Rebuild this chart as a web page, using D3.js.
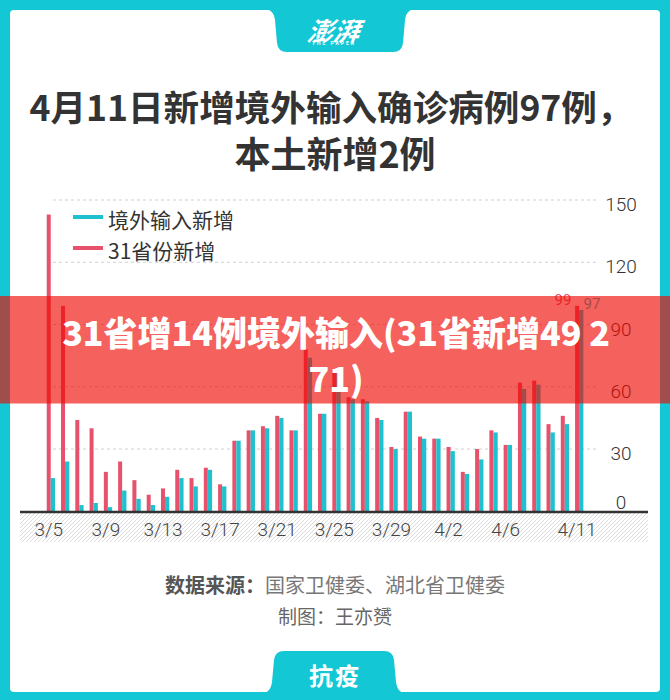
<!DOCTYPE html>
<html><head><meta charset="utf-8">
<script src="https://cdn.jsdelivr.net/npm/d3@7"></script>
<style>body{margin:0;background:#fff}svg{display:block}</style>
</head><body>
<svg id="c" width="670" height="700"></svg>
<script>
// ---- data ----
const dates = ['3/5','3/6','3/7','3/8','3/9','3/10','3/11','3/12','3/13','3/14','3/15','3/16','3/17','3/18','3/19','3/20','3/21','3/22','3/23','3/24','3/25','3/26','3/27','3/28','3/29','3/30','3/31','4/1','4/2','4/3','4/4','4/5','4/6','4/7','4/8','4/9','4/10','4/11'];
const provinceNew = [143,99,44,40,19,24,15,8,11,20,16,21,13,34,39,41,46,39,78,47,67,55,54,45,31,48,36,35,31,19,30,39,32,62,63,42,46,99];
const importedNew = [16,24,3,4,2,10,6,3,7,16,12,20,12,34,39,40,45,39,74,47,67,54,53,44,30,48,35,35,29,18,25,38,32,59,61,38,42,97];
const yTicks = [0,30,60,90,120,150];
const xTickLabels = ['3/5','3/9','3/13','3/17','3/21','3/25','3/29','4/2','4/6','4/11'];
const seriesNames = ['境外输入新增','31省份新增'];
const seriesColors = ['#1fc1cf','#e8516b'];
const titleLines = ['4月11日新增境外输入确诊病例97例，','本土新增2例'];
const bannerLines = ['31省增14例境外输入(31省新增49 2','71)'];
const sourceLabel = '数据来源：';
const sourceText = '国家卫健委、湖北省卫健委';
const creditText = '制图：王亦赟';
const logoText = '澎湃';
const logoSub = 'THE PAPER';
const footerText = '抗疫';

// ---- drawing ----
const svg = d3.select('#c');
const CJK = '"Noto Sans CJK SC","Noto Sans",sans-serif';
const NUM = 'Roboto,"Noto Sans CJK SC",sans-serif';
const frame = '#14c7d4';

svg.append('rect').attr('width',670).attr('height',700).attr('fill',frame);
svg.append('rect').attr('x',10).attr('y',10).attr('width',650).attr('height',682).attr('rx',4).attr('fill','#fff');

// top tab
svg.append('path').attr('fill',frame)
  .attr('d','M264 9 C271 9 274 13 275 20 L277 43 Q278 52 287 52 L393 52 Q402 52 403 43 L405 20 C406 13 409 9 416 9 Z');
svg.append('text').text(logoText).attr('x',334).attr('y',30)
  .attr('text-anchor','middle').attr('dominant-baseline','central')
  .attr('font-family',CJK).attr('font-weight',700).attr('font-style','italic')
  .attr('font-size',26).attr('fill','#fff').attr('transform','skewX(-8) translate(4,0)');
svg.append('text').text(logoSub).attr('x',334).attr('y',45)
  .attr('text-anchor','middle').attr('font-family',NUM).attr('font-weight',700)
  .attr('font-size',5).attr('letter-spacing',2).attr('fill','#fff');

// bottom tab
svg.append('path').attr('fill',frame)
  .attr('d','M262 693 C269 693 271 688 272 682 L274 660 Q275 651 284 651 L384 651 Q393 651 394 660 L396 682 C397 688 399 693 406 693 Z');
svg.append('text').text(footerText).attr('x',335).attr('y',674)
  .attr('text-anchor','middle').attr('dominant-baseline','central')
  .attr('font-family',CJK).attr('font-weight',700).attr('font-size',24)
  .attr('letter-spacing',2).attr('fill','#fff');

// title
svg.append('text').text(titleLines[0]).attr('x',331).attr('y',105)
  .attr('text-anchor','middle').attr('dominant-baseline','central')
  .attr('font-family',CJK).attr('font-weight',700).attr('font-size',35.6).attr('fill','#333');
svg.append('text').text(titleLines[1]).attr('x',335).attr('y',152)
  .attr('text-anchor','middle').attr('dominant-baseline','central')
  .attr('font-family',CJK).attr('font-weight',700).attr('font-size',36).attr('fill','#333');

// scales
const x = d3.scaleBand().domain(dates).range([43.6, 586.2]);
const xs = d3.scaleBand().domain(['p','i']).range([x.bandwidth()/2-4, x.bandwidth()/2+4]);
const y = d3.scaleLinear().domain([0,150]).range([511.3, 200]);

// hatch area under axis
const defs = svg.append('defs');
const pat = defs.append('pattern').attr('id','hatch').attr('width',4).attr('height',4)
  .attr('patternUnits','userSpaceOnUse');
pat.append('path').attr('d','M-1,1 l2,-2 M0,4 l4,-4 M3,5 l2,-2').attr('stroke','#d8d8d8').attr('stroke-width',0.9);
svg.append('rect').attr('x',20).attr('y',513).attr('width',628).attr('height',29).attr('fill','url(#hatch)');

// grid
svg.append('g').selectAll('line').data(yTicks.filter(d=>d>0)).join('line')
  .attr('x1',53).attr('x2',597).attr('y1',d=>y(d)).attr('y2',d=>y(d))
  .attr('stroke','#cfcfcf').attr('stroke-width',1).attr('stroke-dasharray','3,3');

// y labels
const yAxis = svg.append('g').attr('transform','translate(621,0)')
  .call(d3.axisRight(y).tickValues(yTicks).tickSize(0));
yAxis.select('.domain').remove();
yAxis.selectAll('text').attr('x',0).attr('dy',null)
  .attr('text-anchor','middle').attr('dominant-baseline','central')
  .attr('y',d=> d===0 ? -9 : 4)
  .attr('font-family',NUM).attr('font-weight',300).attr('font-size',19).attr('fill','#333');

// bars
const gb = svg.append('g');
gb.selectAll('rect.p').data(dates).join('rect').attr('class','p')
  .attr('x',d=>x(d)+xs('p')).attr('width',xs.bandwidth())
  .attr('y',(d,i)=>y(provinceNew[i])).attr('height',(d,i)=>y(0)-y(provinceNew[i]))
  .attr('fill',seriesColors[1]);
gb.selectAll('rect.i').data(dates).join('rect').attr('class','i')
  .attr('x',d=>x(d)+xs('i')).attr('width',xs.bandwidth()+0.3)
  .attr('y',(d,i)=>y(importedNew[i])).attr('height',(d,i)=>y(0)-y(importedNew[i]))
  .attr('fill',seriesColors[0]);

// value labels on last day
const li = dates.length-1, ld = dates[li];
svg.append('text').text(provinceNew[li])
  .attr('x',x(ld)+xs('p')+xs.bandwidth()/2-14).attr('y',y(provinceNew[li])-1)
  .attr('text-anchor','middle').attr('font-family',NUM).attr('font-size',15)
  .attr('fill',seriesColors[1]);
svg.append('text').text(importedNew[li])
  .attr('x',x(ld)+xs('i')+xs.bandwidth()/2+11).attr('y',y(importedNew[li])-1)
  .attr('text-anchor','middle').attr('font-family',NUM).attr('font-size',15)
  .attr('fill',seriesColors[0]);

// baseline
svg.append('line').attr('x1',20).attr('x2',648).attr('y1',y(0)+0.8).attr('y2',y(0)+0.8)
  .attr('stroke','#333').attr('stroke-width',2.5);

// x labels
const xAxis = svg.append('g').attr('transform','translate(0,529.5)')
  .call(d3.axisBottom(x).tickValues(xTickLabels).tickSize(0));
xAxis.select('.domain').remove();
xAxis.selectAll('text').attr('y',0).attr('dy',null).attr('x',-2)
  .attr('dominant-baseline','central')
  .attr('font-family',NUM).attr('font-weight',300).attr('font-size',19).attr('fill','#444');

// legend
const lg = svg.append('g');
seriesNames.forEach((n,k)=>{
  const yy = 217 + k*31;
  lg.append('line').attr('x1',73).attr('x2',103).attr('y1',yy).attr('y2',yy)
    .attr('stroke',seriesColors[k]).attr('stroke-width',4);
  lg.append('text').text(n).attr('x',108).attr('y',yy+1.5)
    .attr('dominant-baseline','central').attr('font-family',CJK)
    .attr('font-size',21).attr('fill','#333');
});

// source
const s1 = svg.append('text').attr('x',335).attr('y',584).attr('text-anchor','middle')
  .attr('dominant-baseline','central').attr('font-family',CJK).attr('font-size',20);
s1.append('tspan').text(sourceLabel).attr('fill','#555').attr('font-weight',700);
s1.append('tspan').text(sourceText).attr('fill','#777');
svg.append('text').text(creditText).attr('x',335).attr('y',615).attr('text-anchor','middle')
  .attr('dominant-baseline','central').attr('font-family',CJK).attr('font-size',19).attr('fill','#666');

// overlay banner
svg.append('rect').attr('x',0).attr('y',296).attr('width',670).attr('height',107.5)
  .attr('fill','rgb(239,8,0)').attr('fill-opacity',0.64);
bannerLines.forEach((t,k)=>{
  svg.append('text').text(t).attr('x',336).attr('y',331+k*46.5)
    .attr('text-anchor','middle').attr('dominant-baseline','central')
    .attr('font-family',CJK).attr('font-weight',900).attr('font-size',34)
    .attr('fill','#fff');
});
</script>
</body></html>
